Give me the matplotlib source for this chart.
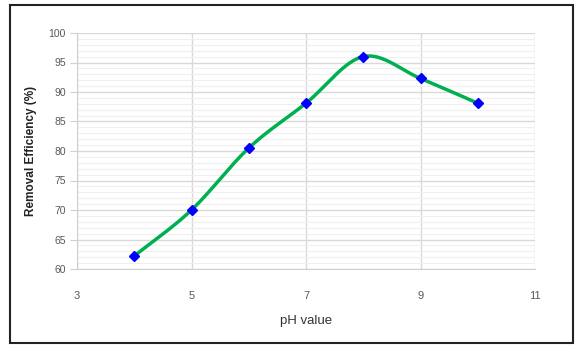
import numpy as np
import matplotlib.pyplot as plt
from matplotlib.patches import Rectangle

ph = [4, 5, 6, 7, 8, 9, 10]
removal = [62.2, 70.0, 80.5, 88.1, 96.0, 92.3, 88.1]
xticks = [3, 5, 7, 9, 11]
yticks = list(range(60, 101, 5))

plt.rcParams['font.family'] = ['Liberation Sans', 'DejaVu Sans']


def smooth(xs, ys, n=30):
    # Excel-style smoothed line (Catmull-Rom through the points)
    x = np.asarray(xs, float)
    y = np.asarray(ys, float)
    px = np.concatenate([[2 * x[0] - x[1]], x, [2 * x[-1] - x[-2]]])
    py = np.concatenate([[2 * y[0] - y[1]], y, [2 * y[-1] - y[-2]]])
    ox, oy = [], []
    t = np.linspace(0, 1, n)
    for i in range(1, len(px) - 2):
        for p, out in ((px, ox), (py, oy)):
            p0, p1, p2, p3 = p[i - 1], p[i], p[i + 1], p[i + 2]
            out.extend(0.5 * ((2 * p1) + (-p0 + p2) * t
                              + (2 * p0 - 5 * p1 + 4 * p2 - p3) * t ** 2
                              + (-p0 + 3 * p1 - 3 * p2 + p3) * t ** 3))
    return ox, oy


fig = plt.figure(figsize=(5.8, 3.46), dpi=100)
fig.patches.append(Rectangle((10 / 580, 3 / 346), 563 / 580, 338 / 346,
                             transform=fig.transFigure, fill=False,
                             edgecolor='#222222', linewidth=1.5))
ax = fig.add_axes([77 / 580, 1 - 269 / 346, 458 / 580, 236 / 346])

ax.set_xlim(3, 11)
ax.set_ylim(60, 100)
ax.set_xticks(xticks)
ax.set_yticks(yticks)
ax.set_yticks(np.arange(60, 101, 1), minor=True)
ax.grid(which='major', color='#d9d9d9', linewidth=1.0)
ax.grid(which='minor', axis='y', color='#efefef', linewidth=0.8)
ax.set_axisbelow(True)

sx, sy = smooth(ph, removal)
ax.plot(sx, sy, color='#00b050', linewidth=2.5, zorder=3)
ax.plot(ph, removal, linestyle='none', marker='D', markersize=5,
        color='#0000ff', zorder=4)

for s in ['top', 'right']:
    ax.spines[s].set_visible(False)
for s in ['left', 'bottom']:
    ax.spines[s].set_color('#d0d0d0')
ax.tick_params(axis='y', which='major', length=5, color='#d0d0d0',
               labelsize=7.5, labelcolor='#595959', pad=3)
ax.tick_params(axis='y', which='minor', length=0)
ax.tick_params(axis='x', length=0, labelsize=8, labelcolor='#595959', pad=16)

ax.set_xlabel('pH value', fontsize=9.5, color='#333333', labelpad=10)
ax.set_ylabel('Removal Efficiency (%)', fontsize=8.5, fontweight='bold',
              color='#222222', labelpad=8)

fig.savefig('out.png', dpi=100)
